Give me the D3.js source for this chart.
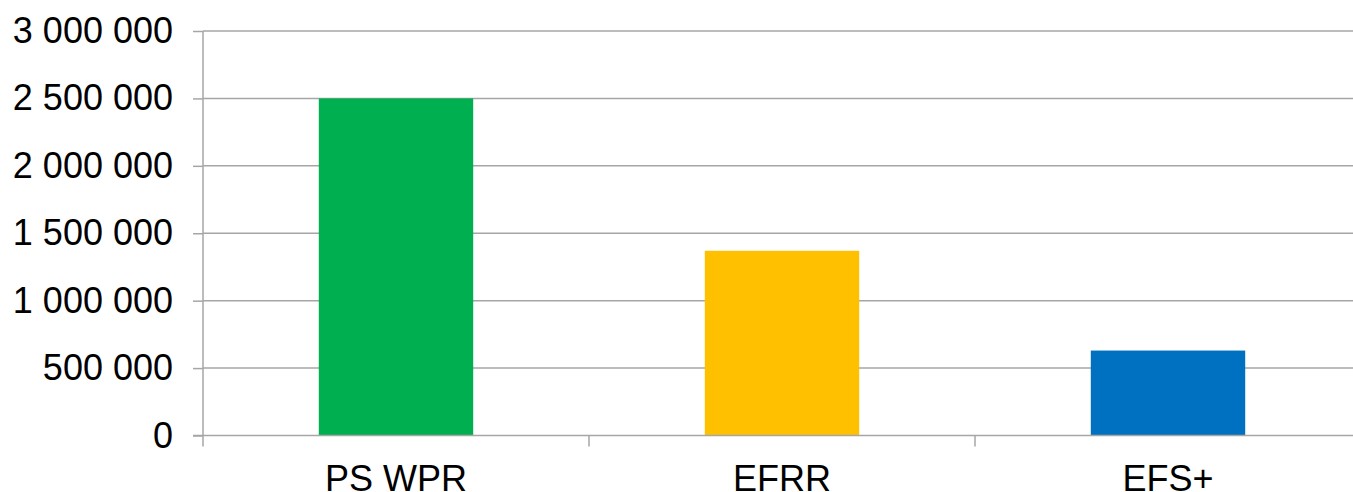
<!DOCTYPE html>
<html>
<head>
<meta charset="UTF-8">
<script src="https://d3js.org/d3.v7.min.js"></script>
<style>
  html, body { margin: 0; padding: 0; background: #fff; }
  text { font-family: "Liberation Sans", Arial, sans-serif; fill: #000; }
</style>
</head>
<body>
<svg id="chart" width="1353" height="492"></svg>
<script>
const categories = ["PS WPR", "EFRR", "EFS+"];
const values = [2500000, 1370000, 630000];
const barColors = ["#00B050", "#FFC000", "#0070C0"];
const yTicks = [0, 500000, 1000000, 1500000, 2000000, 2500000, 3000000];

const svg = d3.select("#chart");
const plotLeft = 203, plotRight = 1361, plotTop = 31, plotBottom = 435.5;

const y = d3.scaleLinear().domain([0, 3000000]).range([plotBottom, plotTop]);
const x = d3.scaleBand().domain(categories).range([plotLeft, plotRight])
    .paddingInner(0.6).paddingOuter(0.3);

const fmt = v => d3.format(",")(v).replace(/,/g, " ");

// gridlines
svg.append("g").selectAll("line")
    .data(yTicks.filter(t => t > 0))
    .join("line")
    .attr("x1", plotLeft).attr("x2", plotRight)
    .attr("y1", d => y(d)).attr("y2", d => y(d))
    .attr("stroke", "#a6a6a6").attr("stroke-width", 1.5);

// bars
svg.append("g").selectAll("rect")
    .data(categories)
    .join("rect")
    .attr("x", d => x(d))
    .attr("y", (d, i) => y(values[i]))
    .attr("width", x.bandwidth())
    .attr("height", (d, i) => plotBottom - y(values[i]))
    .attr("fill", (d, i) => barColors[i]);

// y axis
const yAxis = svg.append("g")
    .attr("transform", `translate(${plotLeft},0)`)
    .call(d3.axisLeft(y).tickValues(yTicks).tickSize(10).tickPadding(20).tickFormat(fmt));
yAxis.selectAll("line, path").attr("stroke", "#a6a6a6").attr("stroke-width", 1.5);
yAxis.select(".domain").attr("d", `M0,${plotBottom}V${plotTop}`);
yAxis.selectAll("text").style("font-size", "36px").attr("fill", "#000")
    .style("font-family", "'Liberation Sans', Arial, sans-serif");

// x axis with ticks at category boundaries
const xAxis = svg.append("g");
xAxis.append("line")
    .attr("x1", plotLeft - 10).attr("x2", plotRight)
    .attr("y1", plotBottom).attr("y2", plotBottom)
    .attr("stroke", "#a6a6a6").attr("stroke-width", 1.5);
const step = x.step();
xAxis.selectAll(".bt")
    .data(d3.range(categories.length + 1))
    .join("line")
    .attr("class", "bt")
    .attr("x1", i => plotLeft + i * step).attr("x2", i => plotLeft + i * step)
    .attr("y1", plotBottom).attr("y2", plotBottom + 11)
    .attr("stroke", "#a6a6a6").attr("stroke-width", 1.5);
xAxis.selectAll(".cl")
    .data(categories)
    .join("text")
    .attr("class", "cl")
    .attr("x", d => x(d) + x.bandwidth() / 2)
    .attr("y", 491)
    .attr("text-anchor", "middle")
    .style("font-size", "36px")
    .text(d => d);
</script>
</body>
</html>
